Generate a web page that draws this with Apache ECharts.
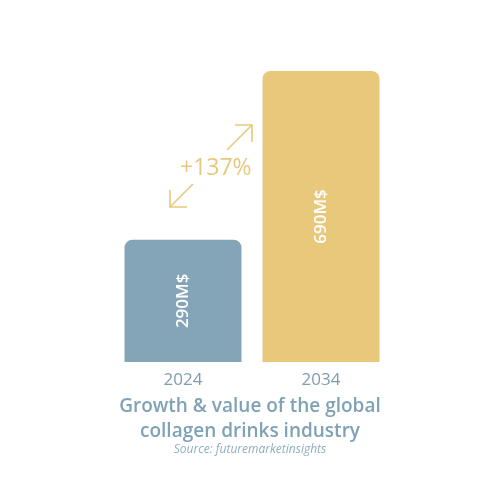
<!DOCTYPE html>
<html>
<head>
<meta charset="utf-8">
<script src="https://cdn.jsdelivr.net/npm/echarts@6/dist/echarts.min.js"></script>
<style>
  html, body { margin: 0; padding: 0; background: #fff; }
  #chart { width: 500px; height: 500px; }
</style>
</head>
<body>
<div id="chart"></div>
<script>
var years = ['2024', '2034']
var values = [290, 690]
var valueLabels = ['290M$', '690M$']
var barColors = ['#84a5b8', '#e8c87b']
var growthText = '+137%'

var chart = echarts.init(document.getElementById('chart'))

var arrowColor = '#e8c87b'
function arrow (x1, y1, x2, y2) {
  // line with an open head at (x2, y2)
  var ang = Math.atan2(y2 - y1, x2 - x1)
  var len = 17
  var a1 = ang + Math.PI - Math.PI / 4
  var a2 = ang + Math.PI + Math.PI / 4
  return {
    type: 'group',
    children: [
      { type: 'line', shape: { x1: x1, y1: y1, x2: x2, y2: y2 }, style: { stroke: arrowColor, lineWidth: 1.6 } },
      { type: 'polyline', shape: { points: [[x2 + len * Math.cos(a1), y2 + len * Math.sin(a1)], [x2, y2], [x2 + len * Math.cos(a2), y2 + len * Math.sin(a2)]] },
        style: { stroke: arrowColor, lineWidth: 1.6, fill: null } }
    ]
  }
}

var option = {
  animation: false,
  grid: { left: 114, right: 110, top: 71, bottom: 138 },
  xAxis: {
    type: 'category',
    data: years,
    axisLine: { show: false },
    axisTick: { show: false },
    axisLabel: { color: '#7f9db0', fontSize: 17, fontFamily: 'Open Sans', margin: 10 }
  },
  yAxis: {
    type: 'value',
    min: 0,
    max: 690,
    show: false,
    splitLine: { show: false }
  },
  series: [{
    type: 'bar',
    barWidth: 117,
    data: values.map(function (v, i) {
      return { value: v, itemStyle: { color: barColors[i], borderRadius: [8, 8, 0, 0] } }
    }),
    label: {
      show: true,
      position: 'inside',
      rotate: 90,
      color: '#ffffff',
      fontSize: 17,
      fontWeight: 600,
      fontFamily: 'Open Sans',
      formatter: function (p) { return valueLabels[p.dataIndex] }
    }
  }],
  graphic: [
    { type: 'text', left: 'center', top: 394,
      style: { text: 'Growth & value of the global\ncollagen drinks industry', fill: '#7fa2b6', font: '600 19px "Open Sans"', textAlign: 'center', lineHeight: 25 } },
    { type: 'text', left: 'center', top: 444,
      style: { text: 'Source: futuremarketinsights', fill: '#8fadbf', font: 'italic 12px "Open Sans"', textAlign: 'center' } },
    { type: 'text', left: 180, top: 157,
      style: { text: growthText, fill: '#e8c87b', font: '23px "Open Sans"' } },
    arrow(193, 184, 170, 207),
    arrow(227, 150, 252, 125)
  ]
}

chart.setOption(option)
</script>
</body>
</html>
